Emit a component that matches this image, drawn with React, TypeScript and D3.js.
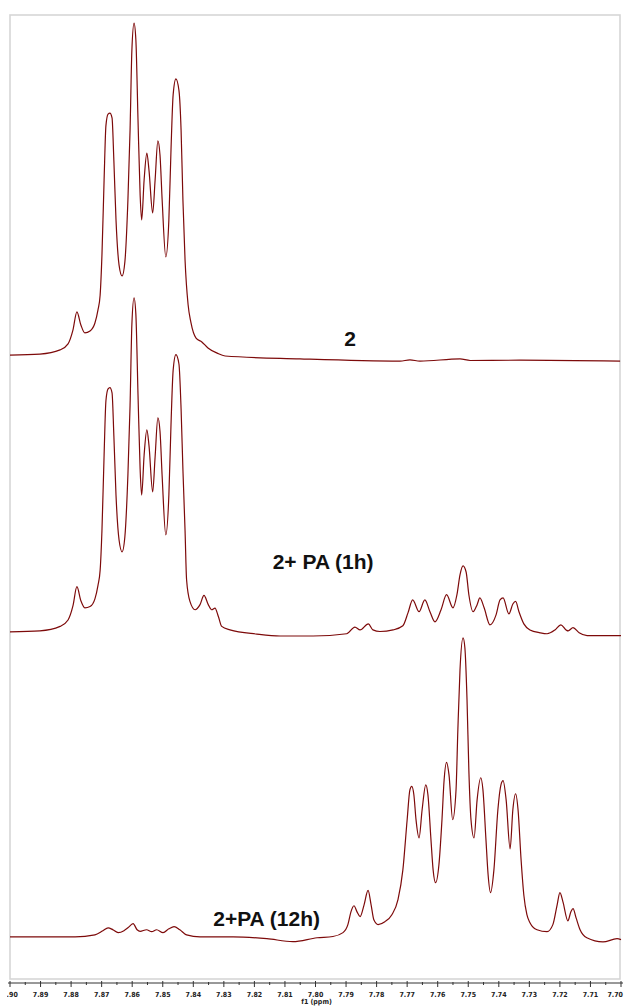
import React from "react";
import * as d3 from "d3";

// spectra: [ppm, intensity], intensity relative to each trace's baseline
const spec2: [number, number][] = [
  [7.9, 0.3], [7.8902, 0.6], [7.8836, 1.9], [7.881, 3.8], [7.8794, 8.1], [7.8781, 13.8],
  [7.8768, 9.7], [7.8755, 7.2], [7.8738, 7.8], [7.8722, 10.3], [7.8712, 14.4], [7.8705, 19],
  [7.8699, 31.6], [7.8692, 55], [7.8686, 72], [7.8679, 75.6], [7.8673, 75.9], [7.8666, 74.4],
  [7.866, 61], [7.8653, 42.5], [7.8643, 28.4], [7.8633, 25], [7.8624, 29.4], [7.8614, 48.8],
  [7.8607, 70.6], [7.8601, 95.6], [7.8594, 104], [7.8588, 98.8], [7.8581, 73.8], [7.8574, 50.3],
  [7.8569, 42.5], [7.8561, 55], [7.8552, 63.4], [7.8545, 58], [7.8533, 44.7], [7.8525, 55],
  [7.8516, 67.2], [7.8509, 62.8], [7.8502, 48.8], [7.849, 31], [7.848, 42.5], [7.8473, 64.4],
  [7.8466, 81.6], [7.8457, 86.6], [7.8447, 83], [7.844, 70.6], [7.8434, 48.8], [7.8427, 30],
  [7.8417, 16], [7.8408, 10.6], [7.8391, 5.6], [7.8372, 4.4], [7.8352, 2.5], [7.8322, 0.9],
  [7.8296, 0], [7.8051, -0.9], [7.7723, -1.6], [7.7691, -1.2], [7.7658, -1.6], [7.7527, -0.9],
  [7.7494, -1.4], [7.7331, -1.3], [7.7003, -1.6],
];

const spec2PA1h: [number, number][] = [
  [7.9, 0.3], [7.8902, 0.6], [7.8836, 2], [7.881, 4], [7.8794, 8.4], [7.8781, 14.4],
  [7.8768, 10], [7.8755, 7.8], [7.8738, 8.2], [7.8722, 10.6], [7.8712, 14.8], [7.8705, 19.5],
  [7.8699, 32], [7.8692, 55.5], [7.8686, 72.5], [7.8679, 76.2], [7.8673, 76.6], [7.8666, 75],
  [7.866, 61.5], [7.8653, 43], [7.8643, 29], [7.8633, 25.3], [7.8624, 30], [7.8614, 49.5],
  [7.8607, 71], [7.8601, 96.5], [7.8594, 104.7], [7.8588, 99.5], [7.8581, 74.5], [7.8574, 51],
  [7.8569, 43], [7.8561, 55.5], [7.8552, 63.4], [7.8545, 58.5], [7.8533, 44], [7.8525, 55],
  [7.8516, 67.2], [7.8509, 63], [7.8502, 49], [7.849, 30.6], [7.848, 43], [7.8473, 65],
  [7.8466, 82], [7.8457, 86.9], [7.8447, 84], [7.844, 70], [7.8434, 51], [7.8427, 32],
  [7.8422, 16.6], [7.8411, 9.8], [7.8394, 7.2], [7.8378, 8.8], [7.8365, 11.7], [7.8351, 8.8],
  [7.834, 7.2], [7.8329, 7.7], [7.8318, 5.1], [7.8307, 2], [7.828, 0.9], [7.8192, -0.4],
  [7.8116, -1], [7.8008, -1], [7.7898, -0.3], [7.7871, 1.8], [7.7854, 0.9], [7.7827, 2.8],
  [7.7812, 0.9], [7.7789, 0.4], [7.7746, 0.9], [7.7714, 2.2], [7.7697, 6.3], [7.7682, 10.3],
  [7.7661, 6.6], [7.7642, 10.3], [7.7625, 6.5], [7.7609, 3.4], [7.7589, 7.2], [7.7571, 11.9],
  [7.755, 7.8], [7.7537, 11.9], [7.7527, 18.1], [7.7517, 20.9], [7.7507, 19], [7.7498, 11.9],
  [7.7484, 6.6], [7.7471, 8.8], [7.7462, 10.9], [7.7448, 7.8], [7.7429, 2.5], [7.7409, 5.6],
  [7.7396, 10.3], [7.7386, 10.9], [7.7367, 5.9], [7.7354, 9], [7.7345, 9.8], [7.7334, 6.6],
  [7.7318, 2.8], [7.7298, 0.9], [7.7265, 0], [7.7242, -0.3], [7.7216, 0.9], [7.7197, 2.5],
  [7.718, 0.9], [7.7173, 0.6], [7.7157, 1.6], [7.7137, 0], [7.7111, -0.9], [7.7, -0.9],
];

const spec2PA12h: [number, number][] = [
  [7.9, 0], [7.8787, 0], [7.8722, 0.6], [7.8696, 1.9], [7.8679, 2.8], [7.8663, 2.2],
  [7.8646, 1.3], [7.8627, 1.9], [7.8614, 2.8], [7.8597, 4.1], [7.8584, 2.2], [7.8574, 1.7],
  [7.8553, 2.2], [7.8536, 1.6], [7.852, 2.2], [7.8499, 1.3], [7.848, 2.5], [7.8463, 3.2],
  [7.8444, 2.2], [7.8422, 0.6], [7.8378, 0], [7.827, 0], [7.8159, -0.6], [7.8074, -1.5],
  [7.7995, -0.3], [7.7943, 0.1], [7.791, 1.3], [7.7894, 3.8], [7.7884, 7.8], [7.7874, 9.7],
  [7.7864, 7.8], [7.7854, 6.3], [7.7841, 10], [7.7828, 14.5], [7.7818, 10], [7.7809, 5.3],
  [7.7795, 3.8], [7.7773, 4.7], [7.775, 6.9], [7.773, 11.6], [7.7714, 20.9], [7.77, 36.6],
  [7.7691, 45.9], [7.7685, 47], [7.7678, 44.4], [7.7671, 36.6], [7.7661, 30.9], [7.7651, 39.7],
  [7.7639, 47.5], [7.7632, 44.4], [7.7622, 30.3], [7.7615, 20.9], [7.7607, 16.9], [7.7596, 22.5],
  [7.7586, 36.6], [7.7579, 49], [7.7571, 54.5], [7.7563, 50.6], [7.7551, 36.6], [7.754, 45.9],
  [7.7534, 64.7], [7.7527, 83.4], [7.7517, 93.4], [7.7511, 90.3], [7.7504, 74], [7.7498, 52],
  [7.7491, 36.6], [7.7481, 30.9], [7.7471, 42.8], [7.7459, 49.7], [7.7452, 46], [7.7442, 30.3],
  [7.7435, 19.4], [7.7427, 13.8], [7.7416, 20.9], [7.7403, 39.7], [7.7393, 47.5], [7.7386, 48.8],
  [7.7376, 42.8], [7.7363, 27.5], [7.7354, 39.7], [7.7345, 44.7], [7.7337, 39.7], [7.7327, 24],
  [7.7318, 13], [7.7308, 6.9], [7.7298, 4.4], [7.7275, 2.2], [7.7242, 1.6], [7.7223, 3.8],
  [7.7209, 10], [7.72, 13.8], [7.719, 10.9], [7.7174, 5], [7.7164, 7.8], [7.7157, 8.8],
  [7.7147, 5.9], [7.7134, 2.2], [7.7112, -0.3], [7.7059, -1.6], [7.7013, -0.6], [7.7, -0.9],
];

const traces = [spec2, spec2PA1h, spec2PA12h];
const offsets = [195, 108.5, 13.5];
const labels = ["2", "2+ PA (1h)", "2+PA (12h)"];
const labelPpm = [7.7887, 7.7975, 7.816];
const labelY = [198.1, 128.4, 16.9];

const majorTicks = d3.range(0, 21).map((i) => +(7.9 - i * 0.01).toFixed(2));
const minorTicks = d3.range(0, 20).map((i) => +(7.895 - i * 0.01).toFixed(3));
const axisTitle = "f1 (ppm)";

export default function App() {
  const width = 624, height = 1007;
  const frame = { left: 10, top: 15, right: 620, bottom: 979 };

  const x = d3.scaleLinear().domain([7.9, 7.7]).range([10, 621]);
  const y = d3.scaleLinear().domain([0, 300]).range([980, 20]);
  const axisY = 983;
  const tickFont = "'Liberation Sans Narrow', 'Arial Narrow', 'DejaVu Sans Condensed', sans-serif";

  const line = (off: number) =>
    d3.line<[number, number]>()
      .x((d) => x(d[0]))
      .y((d) => y(d[1] + off))
      .curve(d3.curveMonotoneX);

  return (
    <svg width={width} height={height} style={{ position: "absolute", left: 0, top: 0, background: "#fff" }}>
      <defs>
        <clipPath id="pg">
          <rect x={7} y={0} width={width - 7} height={height} />
        </clipPath>
      </defs>
      <rect
        x={frame.left}
        y={frame.top}
        width={frame.right - frame.left}
        height={frame.bottom - frame.top}
        fill="none"
        stroke="#d6d6d6"
        strokeWidth={1.6}
      />

      {traces.map((t, i) => (
        <path key={i} d={line(offsets[i])(t) || ""} fill="none" stroke="#7d0a0a" strokeWidth={1.2} strokeLinejoin="round" />
      ))}

      {labels.map((l, i) => (
        <text
          key={l}
          x={x(labelPpm[i])}
          y={y(labelY[i])}
          textAnchor="middle"
          fontFamily="'Liberation Sans', Arial, sans-serif"
          fontWeight="bold"
          fontSize={21}
          fill="#111"
        >
          {l}
        </text>
      ))}

      {/* axis */}
      <g clipPath="url(#pg)">
        <line x1={x(7.9) - 2} x2={x(7.7) + 2} y1={axisY} y2={axisY} stroke="#333" strokeWidth={1} />
        {majorTicks.map((t) => (
          <line key={"M" + t} x1={x(t)} x2={x(t)} y1={axisY - 2} y2={axisY + 4} stroke="#333" strokeWidth={1} />
        ))}
        {minorTicks.map((t) => (
          <line key={"m" + t} x1={x(t)} x2={x(t)} y1={axisY - 1} y2={axisY + 2} stroke="#333" strokeWidth={1} />
        ))}
        {majorTicks.map((t, i) => (
          <text
            key={"l" + t}
            x={i === majorTicks.length - 1 ? width - 1 : x(t)}
            y={axisY + 14}
            textAnchor={i === majorTicks.length - 1 ? "end" : "middle"}
            fontFamily={tickFont}
            fontWeight="bold"
            fontSize={7}
            fill="#222"
          >
            {t.toFixed(2)}
          </text>
        ))}
      </g>
      <text
        x={x(7.8) + 1}
        y={axisY + 21}
        textAnchor="middle"
        fontFamily={tickFont}
        fontWeight="bold"
        fontSize={7}
        fill="#222"
      >
        {axisTitle}
      </text>
    </svg>
  );
}
